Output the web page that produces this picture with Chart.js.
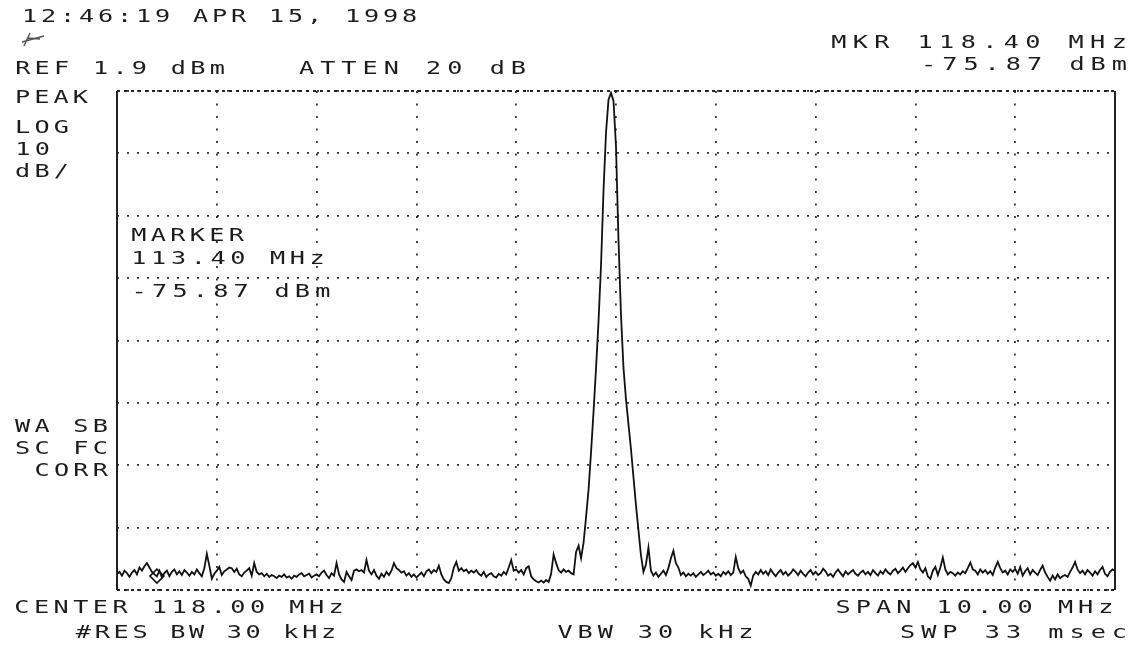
<!DOCTYPE html>
<html>
<head>
<meta charset="utf-8">
<script src="https://cdn.jsdelivr.net/npm/chart.js@4.4.1/dist/chart.umd.min.js"></script>
<style>
  html, body { margin: 0; padding: 0; background: #fff; }
  #wrap { width: 1136px; height: 649px; }
</style>
</head>
<body>
<div id="wrap"><canvas id="specCanvas" width="1136" height="649"></canvas></div>
<script>
// sweep: 401 points, 113.00 - 123.00 MHz (center 118.00, span 10.00)
const startFreq = 113.0;
const stepFreq = 0.025;
const freqTicks = [113, 114, 115, 116, 117, 118, 119, 120, 121, 122, 123];
const levelTicks = [1.9, -8.1, -18.1, -28.1, -38.1, -48.1, -58.1, -68.1, -78.1];

// trace level in dBm
const traceLevel = [
  -75.5,-75.2,-75.8,-75.0,-75.4,-76.0,-75.3,-74.9,-75.6,-74.5,
  -75.0,-74.3,-73.8,-74.5,-75.2,-75.6,-75.9,-75.0,-76.1,-75.4,
  -75.0,-75.9,-75.2,-74.8,-75.6,-75.1,-75.7,-74.9,-75.3,-75.8,
  -75.2,-75.6,-74.8,-75.4,-75.9,-74.6,-72.3,-74.2,-76.3,-75.5,
  -75.0,-74.4,-75.7,-75.1,-74.8,-74.5,-74.6,-75.2,-74.7,-75.6,
  -75.9,-75.3,-75.0,-74.6,-75.8,-73.8,-75.2,-75.6,-75.4,-75.9,
  -75.5,-76.0,-75.7,-75.9,-76.2,-75.8,-76.0,-75.6,-76.1,-75.9,
  -76.3,-75.8,-76.0,-75.6,-75.4,-75.9,-75.7,-75.5,-76.1,-75.8,
  -75.6,-75.9,-75.3,-75.0,-75.7,-76.2,-75.4,-75.8,-73.8,-75.6,
  -76.4,-76.8,-75.2,-75.9,-76.5,-75.0,-74.8,-75.1,-74.9,-75.3,
  -73.3,-75.0,-75.6,-74.9,-75.8,-76.3,-75.5,-76.0,-75.2,-75.7,
  -75.0,-73.8,-74.6,-74.9,-75.3,-75.1,-75.8,-75.4,-76.0,-75.6,
  -76.1,-75.7,-75.3,-75.9,-75.1,-74.8,-75.4,-74.9,-75.2,-74.2,
  -75.6,-76.4,-76.8,-77.0,-76.2,-74.5,-73.6,-75.0,-74.6,-75.1,
  -74.8,-75.4,-75.0,-75.3,-74.9,-75.5,-75.8,-75.2,-76.0,-75.6,
  -75.4,-75.9,-76.1,-75.5,-75.8,-75.2,-75.6,-74.5,-73.3,-75.0,
  -74.8,-75.3,-74.9,-75.6,-74.6,-74.3,-75.9,-76.4,-76.7,-76.9,
  -76.6,-76.9,-76.5,-76.8,-75.5,-72.4,-73.8,-74.9,-75.3,-74.8,
  -75.2,-75.0,-75.4,-75.6,-72.0,-71.0,-73.0,-70.5,-66.4,-62.0,
  -56.0,-49.5,-42.5,-35.0,-26.0,-14.0,-4.8,0.5,1.6,0.3,
  -7.0,-22.0,-34.0,-42.5,-47.5,-51.5,-55.5,-60.0,-64.5,-68.5,
  -72.5,-75.2,-74.0,-71.3,-75.0,-75.8,-75.3,-76.0,-75.5,-75.0,
  -75.7,-74.6,-73.0,-71.8,-73.8,-74.5,-75.7,-75.3,-75.9,-75.5,
  -75.8,-75.4,-76.0,-75.6,-75.2,-75.7,-75.4,-75.0,-75.6,-75.3,
  -75.8,-75.5,-75.9,-75.2,-75.6,-75.1,-75.7,-75.3,-72.8,-74.6,
  -75.4,-75.0,-75.9,-76.3,-77.4,-75.8,-75.2,-75.6,-74.9,-75.5,
  -75.1,-75.7,-74.8,-75.4,-75.9,-75.3,-74.9,-75.6,-75.2,-75.8,
  -75.4,-74.8,-75.2,-75.7,-75.0,-75.5,-75.9,-75.3,-74.9,-75.6,
  -75.2,-75.7,-75.4,-74.7,-75.1,-75.8,-75.5,-76.0,-75.3,-74.8,
  -75.4,-75.9,-75.1,-75.6,-75.2,-74.9,-75.5,-75.8,-75.3,-75.0,
  -75.6,-75.2,-75.7,-74.9,-75.4,-75.8,-75.1,-75.5,-74.8,-75.3,
  -75.6,-75.0,-74.7,-75.4,-75.0,-74.5,-75.2,-74.6,-74.1,-73.8,
  -74.5,-73.6,-74.8,-75.3,-74.6,-75.9,-76.3,-75.0,-74.4,-75.7,
  -74.5,-72.9,-74.8,-75.6,-75.2,-75.4,-75.8,-75.3,-75.6,-75.1,
  -75.4,-74.6,-73.7,-74.8,-75.0,-75.6,-74.8,-75.3,-74.9,-75.5,
  -75.1,-75.7,-74.5,-73.6,-74.6,-75.3,-75.0,-75.6,-74.8,-75.2,
  -74.7,-75.5,-74.4,-75.8,-75.1,-74.6,-75.6,-74.9,-75.3,-75.7,
  -74.9,-74.2,-75.3,-76.0,-76.6,-75.8,-76.4,-75.6,-76.2,-75.9,
  -75.7,-76.0,-75.2,-74.5,-73.6,-74.8,-75.4,-75.0,-75.6,-74.9,
  -75.3,-75.8,-75.1,-75.6,-74.9,-74.4,-75.5,-75.9,-75.2,-74.8,
  -75.0
];

const markerFreq = [113.40];
const markerLevel = [-75.87];

// annotation text: [string, left x, right x, center y]
const screenText = [
  ['12:46:19 APR 15, 1998', 20, 419, 17],
  ['REF 1.9 dBm', 13, 227, 69],
  ['ATTEN 20 dB', 296, 529, 69],
  ['MKR 118.40 MHz', 828, 1130, 43],
  ['-75.87 dBm', 918, 1130, 65],
  ['PEAK', 13, 90, 98],
  ['LOG', 13, 71, 128],
  ['10', 13, 52, 150],
  ['dB/', 13, 71, 172],
  ['MARKER', 129, 246, 236],
  ['113.40 MHz', 129, 327, 259],
  ['-75.87 dBm', 129, 333, 292],
  ['WA SB', 13, 110, 427],
  ['SC FC', 13, 110, 449],
  [' CORR', 13, 110, 471],
  ['CENTER 118.00 MHz', 12, 346, 608],
  ['#RES BW 30 kHz', 74, 338, 633],
  ['VBW 30 kHz', 555, 756, 633],
  ['SPAN 10.00 MHz', 833, 1116, 608],
  ['SWP 33 msec', 897, 1130, 633]
];

const tracePoints = traceLevel.map((v, i) => ({ x: startFreq + i * stepFreq, y: v }));
const markerPoints = markerFreq.map((f, i) => ({ x: f, y: markerLevel[i] }));

const framePlugin = {
  id: 'frame',
  beforeDatasetsDraw(chart) {
    const { ctx, chartArea: a } = chart;
    ctx.save();
    ctx.strokeStyle = '#222';
    ctx.lineWidth = 2;
    ctx.beginPath();
    ctx.moveTo(a.left, a.top); ctx.lineTo(a.left, a.bottom);
    ctx.moveTo(a.right, a.top); ctx.lineTo(a.right, a.bottom);
    ctx.stroke();
    ctx.setLineDash([3, 4]);
    ctx.lineWidth = 1.8;
    ctx.beginPath();
    ctx.moveTo(a.left, a.top); ctx.lineTo(a.right, a.top);
    ctx.moveTo(a.left, a.bottom); ctx.lineTo(a.right, a.bottom);
    ctx.stroke();
    ctx.restore();
  },
  afterDraw(chart) {
    const ctx = chart.ctx;
    ctx.save();
    ctx.fillStyle = '#1c1c1c';
    ctx.font = '18px "DejaVu Sans Mono"';
    ctx.textAlign = 'center';
    ctx.textBaseline = 'middle';
    screenText.forEach(([s, x0, x1, y]) => {
      const pitch = (x1 - x0) / s.length;
      for (let i = 0; i < s.length; i++) {
        const cx = x0 + pitch * (i + 0.5);
        ctx.save();
        ctx.translate(cx, y);
        ctx.scale(1.4, 1);
        ctx.fillText(s[i], 0, 0);
        ctx.restore();
      }
    });
    // little pen mark under the time stamp
    ctx.strokeStyle = '#555';
    ctx.lineWidth = 1.5;
    ctx.beginPath();
    ctx.moveTo(22, 42); ctx.lineTo(44, 36);
    ctx.moveTo(28, 38); ctx.lineTo(40, 39);
    ctx.moveTo(30, 33); ctx.lineTo(24, 46);
    ctx.stroke();
    ctx.restore();
  }
};

const gridStyle = {
  color: '#333',
  lineWidth: 1.8,
  drawTicks: false
};

new Chart(document.getElementById('specCanvas').getContext('2d'), {
  type: 'line',
  data: {
    datasets: [
      {
        label: 'Trace',
        data: tracePoints,
        borderColor: '#111',
        borderWidth: 1.8,
        pointRadius: 0,
        tension: 0,
        fill: false
      },
      {
        label: 'Marker',
        data: markerPoints,
        showLine: false,
        pointStyle: 'rectRot',
        pointRadius: 7,
        pointBorderWidth: 1.6,
        pointBorderColor: '#111',
        pointBackgroundColor: 'rgba(0,0,0,0)'
      }
    ]
  },
  options: {
    responsive: false,
    animation: false,
    devicePixelRatio: 1,
    layout: { padding: { left: 117, top: 91, right: 21, bottom: 59 } },
    plugins: { legend: { display: false }, tooltip: { enabled: false } },
    scales: {
      x: {
        type: 'linear',
        min: 113,
        max: 123,
        afterBuildTicks: (s) => { s.ticks = freqTicks.map(v => ({ value: v })); },
        ticks: { display: false },
        grid: gridStyle,
        border: { display: false, dash: [2, 10.5] }
      },
      y: {
        type: 'linear',
        min: -78.1,
        max: 1.9,
        afterBuildTicks: (s) => { s.ticks = levelTicks.map(v => ({ value: v })); },
        ticks: { display: false },
        grid: gridStyle,
        border: { display: false, dash: [2, 8] }
      }
    }
  },
  plugins: [framePlugin]
});
</script>
</body>
</html>
